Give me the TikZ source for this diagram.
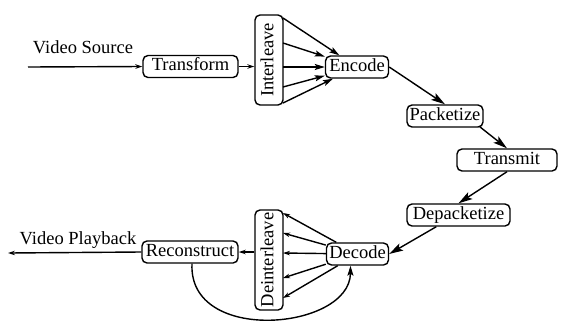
\documentclass[tikz,border=0pt]{standalone}
\usepackage{fontspec}
\setmainfont{Liberation Serif}
\usetikzlibrary{arrows.meta,calc}
\begin{document}
\begin{tikzpicture}[x=1pt,y=1pt,
  box/.style={draw, line width=1.4pt, rounded corners=5pt, inner sep=0pt,
    minimum height=22pt, text height=12.5pt, text depth=4pt,
    font=\fontsize{18.5}{21}\selectfont},
  vbox/.style={box, rotate=90, minimum height=28pt},
  conn/.style={line width=1.4pt, -{Stealth[length=14pt,width=8pt,inset=3pt]}},
  mid/.style={-{Stealth[length=10pt,width=6pt,inset=2pt]}},
  small/.style={-{Stealth[length=7pt,width=4.5pt]}},
  lbl/.style={font=\fontsize{18.5}{21}\selectfont, inner sep=0pt}]
\useasboundingbox (0,0) rectangle (562,-322);

% processing stages
\node[box, minimum width=95pt]  (tf)  at (190.5,-66.5) {Transform};
\node[vbox, minimum width=90pt] (il)  at (269,-60)     {Interleave};
\node[box, minimum width=63pt]  (enc) at (357,-67)     {Encode};
\node[box, minimum width=76pt]  (pkt) at (445,-116)    {Packetize};
\node[box, minimum width=100pt] (tx)  at (507,-160)    {Transmit};
\node[box, minimum width=103pt] (dpk) at (458.5,-215)  {Depacketize};
\node[box, minimum width=62pt]  (dec) at (357.5,-254)  {Decode};
\node[vbox, minimum width=100pt](di)  at (269,-260)    {Deinterleave};
\node[box, minimum width=96pt]  (rec) at (190,-252)    {Reconstruct};

% input and output labels
\node[lbl] (vs) at (83,-47)  {Video Source};
\node[lbl] (vp) at (78,-240) {Video Playback};
\coordinate (src) at (28,-67);
\coordinate (out) at (8,-253);

% fan-out points on the interleaver
\coordinate (i1) at (283,-18);
\coordinate (i2) at (283,-43);
\coordinate (i3) at (283,-67);
\coordinate (i4) at (283,-87);
\coordinate (i5) at (283,-103);
% fan-in points on the deinterleaver
\coordinate (d1) at (283,-213);
\coordinate (d2) at (283,-233);
\coordinate (d3) at (283,-253);
\coordinate (d4) at (283,-278);
\coordinate (d5) at (283,-298);

% forward path
\draw[conn, small] (src) -- (tf.west);
\draw[conn, small] (tf.east) -- (tf.east -| il.north);
\foreach \p in {i1,i2,i3,i4,i5} \draw[conn, mid] (\p) -- (enc);
\draw[conn] (enc.east) -- (pkt.north);
\draw[conn] ([xshift=-4pt,yshift=1pt]pkt.south east) -- (tx.north);
\draw[conn] (tx.south) -- (dpk.north);
\draw[conn] ([xshift=30pt]dpk.south west) -- (dec.east);

% return path
\foreach \p in {d1,d2,d3,d4,d5} \draw[conn, small] (dec) -- (\p);
\draw[conn, small] (rec.east -| di.north) -- (rec.east);
\draw[conn, small] (rec.west) -- (out);
\draw[conn, mid] ([xshift=2pt]rec.south) .. controls (188,-345) and (350,-330) .. ([xshift=-7pt]dec.south);
\end{tikzpicture}
\end{document}
